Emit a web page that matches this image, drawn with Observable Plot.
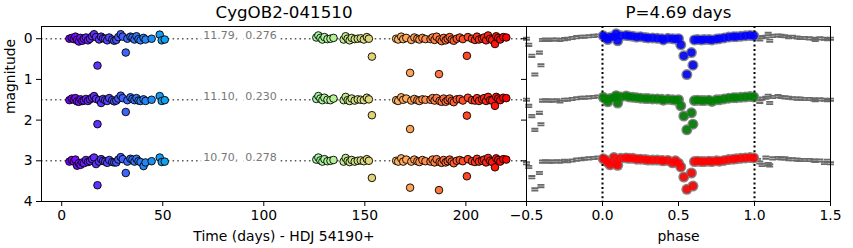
<!DOCTYPE html>
<html><head><meta charset="utf-8">
<script src="https://cdn.jsdelivr.net/npm/d3@7"></script>
<script src="https://cdn.jsdelivr.net/npm/@observablehq/plot@0.6"></script>
<style>
body{margin:0;background:#fff;}
#wrap{position:relative;width:853px;height:248px;font-family:"DejaVu Sans",sans-serif;}
#wrap svg{position:absolute;top:0;overflow:visible;}
</style></head><body><div id="wrap"></div>
<script>
// ---------- data ----------
const starName = "CygOB2-041510";
const periodDays = 4.69;
const bandOffsets = [0, 1.5, 3];
const bandMeans = [11.79, 11.10, 10.70];
const bandAmps = [0.276, 0.230, 0.278];
const bandColors = ["#0000ff", "#008000", "#ff0000"];
const annotX = 70;

// observation times (days, HDJ 54190+)
const times = [
  3.8, 5, 6, 6.8, 7.6, 8.5, 9.3, 10.2, 11, 12, 13, 14, 15, 16, 17, 17.7, 18.5, 19.5, 20.5, 21.5, 22.5, 23.5, 25, 26, 27, 28, 29.2, 30.2, 31.7, 32.5, 34, 35, 36, 37, 38, 39, 40.5, 41.5, 44.5, 48.5, 49.5, 51,
  126, 127, 128, 129, 130, 131.5, 133, 134.5,
  139.5, 140.5, 141.5, 142.5, 143.5, 145, 146.5, 148, 149.5, 151, 152, 153.5,
  165.5, 166.5, 168, 169, 170.5, 172.4, 173, 174.5, 176, 177, 178.5, 180,
  182.5, 183.5, 184.5, 185.5, 186.7, 187, 188, 189, 190, 191, 192, 193, 194, 195.5, 197, 198.5, 200.5, 201, 203, 204.5, 205.5, 206.5, 208, 209, 210, 211, 212, 213, 214.4, 215, 216, 217, 218.5, 220
];
// magnitude minus band mean
const magB = [
  0.0, -0.02, 0.01, -0.05, 0.03, 0.07, -0.02, 0.05, 0.0, -0.03, 0.04, 0.0, -0.06, -0.11, -0.04, 0.66, 0.02, -0.05, -0.01, 0.0, 0.04, -0.03, 0.02, 0.05, 0.03, -0.04, -0.11, -0.05, 0.34, 0.0, -0.05, -0.03, 0.02, -0.06, 0.01, 0.04, -0.02, 0.02, 0.0, -0.1, 0.04, 0.02,
  -0.03, -0.08, -0.02, 0.02, -0.04, 0.01, 0.0, -0.02,
  0.02, -0.06, 0.0, 0.04, -0.02, 0.01, 0.0, -0.01, 0.02, -0.04, 0.0, 0.44,
  0.0, 0.02, -0.05, 0.01, -0.02, 0.84, 0.03, -0.03, 0.0, 0.02, -0.02, 0.01,
  0.01, -0.03, 0.03, -0.05, 0.87, 0.02, 0.06, -0.02, 0.04, 0.0, -0.04, 0.02, 0.05, 0.0, -0.03, 0.01, 0.42, -0.04, 0.0, 0.03, -0.05, 0.02, 0.0, -0.03, 0.04, -0.08, 0.0, 0.03, 0.13, -0.06, -0.02, 0.02, -0.04, -0.03
];
const magG = [
  0.01, -0.03, 0.0, -0.04, 0.04, 0.05, -0.01, 0.03, 0.02, -0.02, 0.03, -0.01, -0.05, -0.09, -0.02, 0.60, 0.01, 0.08, -0.02, 0.01, 0.03, -0.04, 0.01, 0.04, 0.02, -0.03, -0.1, -0.04, 0.30, 0.01, -0.06, -0.02, 0.01, -0.04, 0.02, 0.03, -0.01, 0.03, 0.0, -0.09, 0.03, 0.01,
  -0.02, -0.09, -0.03, 0.01, -0.05, 0.0, 0.01, -0.03,
  0.01, -0.07, 0.01, 0.03, -0.03, 0.02, -0.01, 0.0, 0.01, -0.05, -0.01, 0.38,
  0.01, 0.03, -0.06, 0.0, -0.03, 0.72, 0.02, -0.02, 0.01, 0.03, -0.01, 0.0,
  0.0, -0.04, 0.02, -0.04, null, 0.03, 0.05, -0.03, 0.05, 0.01, -0.03, 0.03, 0.06, -0.01, -0.02, 0.02, 0.39, -0.05, 0.01, 0.02, -0.04, 0.03, -0.01, -0.04, 0.03, -0.07, 0.01, 0.02, 0.15, -0.07, -0.03, 0.01, -0.05, -0.04
];
const magR = [
  0.02, -0.02, 0.02, -0.03, 0.12, 0.06, 0.1, 0.04, 0.06, -0.02, 0.03, 0.01, -0.04, -0.08, 0.08, 0.60, 0.02, -0.04, 0.0, 0.02, 0.05, -0.02, 0.03, 0.04, 0.04, -0.03, -0.09, -0.04, 0.30, 0.02, -0.05, -0.03, 0.02, -0.05, 0.01, 0.03, 0.13, 0.04, 0.01, -0.08, 0.03, 0.02,
  -0.03, -0.08, -0.01, 0.02, -0.04, 0.01, 0.0, -0.02,
  0.02, -0.07, 0.0, 0.03, -0.02, 0.02, 0.0, -0.01, 0.01, -0.04, 0.0, 0.42,
  0.0, 0.02, -0.06, 0.02, -0.03, 0.66, 0.02, -0.03, 0.01, 0.03, -0.02, 0.01,
  0.02, -0.03, 0.04, -0.04, 0.72, 0.03, 0.05, -0.02, 0.04, 0.01, -0.03, 0.02, 0.06, 0.0, -0.02, 0.01, 0.38, -0.04, 0.01, 0.03, -0.05, 0.02, 0.0, -0.03, 0.04, -0.07, 0.0, 0.03, 0.16, -0.06, -0.02, 0.02, -0.04, -0.03
];

// folded light curve (phase, magnitude minus band mean)
const phases = [0.005, 0.02, 0.035, 0.05, 0.075, 0.09, 0.10, 0.12, 0.155, 0.175, 0.20, 0.225, 0.25, 0.28, 0.30, 0.33, 0.36, 0.39, 0.40, 0.43, 0.46, 0.48, 0.50, 0.515, 0.535, 0.555, 0.585, 0.595, 0.605, 0.625, 0.65, 0.67, 0.70, 0.72, 0.75, 0.77, 0.80, 0.83, 0.86, 0.88, 0.91, 0.94, 0.97, 0.995];
const foldB = [-0.07, -0.03, 0.02, -0.04, -0.05, -0.12, 0.05, -0.07, -0.08, -0.07, -0.06, -0.04, -0.05, -0.03, -0.02, -0.02, -0.01, 0.0, 0.03, -0.01, 0.0, 0.01, 0.0, 0.15, 0.42, 0.88, 0.34, 0.65, 0.03, 0.02, 0.03, 0.02, 0.02, 0.03, 0.01, 0.0, -0.02, -0.04, -0.05, -0.05, -0.06, -0.07, -0.08, -0.07];
const foldG = [-0.06, -0.02, 0.05, -0.03, -0.05, -0.10, 0.08, -0.07, -0.09, -0.07, -0.06, -0.05, -0.04, -0.03, -0.03, -0.02, -0.02, -0.01, 0.01, -0.01, 0.0, 0.01, 0.0, 0.15, 0.40, 0.74, 0.32, 0.60, 0.02, 0.01, 0.02, 0.02, 0.01, 0.04, 0.0, 0.0, -0.02, -0.04, -0.05, -0.05, -0.06, -0.07, -0.08, -0.07];
const foldR = [-0.05, -0.02, 0.04, 0.10, -0.08, 0.08, 0.11, -0.06, -0.07, -0.06, -0.06, -0.04, -0.04, -0.03, -0.02, -0.02, -0.02, -0.01, 0.0, -0.01, 0.05, 0.0, 0.06, 0.15, 0.40, 0.70, 0.30, 0.62, 0.02, 0.01, 0.02, 0.02, 0.01, 0.02, 0.0, 0.01, -0.01, -0.03, -0.04, -0.05, -0.06, -0.07, -0.08, -0.07];

const xTicksTime = [0, 50, 100, 150, 200];
const xTicksPhase = [-0.5, 0, 0.5, 1, 1.5];
const yTicks = [0, 1, 2, 3, 4];
const foldBounds = [0, 1];

// ---------- build tables ----------
const timeMags = [magB, magG, magR];
const foldMags = [foldB, foldG, foldR];
const leftData = [];
timeMags.forEach((arr, k) => times.forEach((t, i) => {
  if (arr[i] != null) leftData.push({t, y: bandOffsets[k] + arr[i]});
}));
const rightData = [], grayCopies = [];
foldMags.forEach((arr, k) => phases.forEach((p, i) => {
  const y = bandOffsets[k] + arr[i];
  rightData.push({p, y, band: k});
  if (p >= 0.5) grayCopies.push({p: p - 1, y});
  if (p <= 0.5) grayCopies.push({p: p + 1, y});
}));
const annots = bandOffsets.map((o, k) => ({y: o, label: `${bandMeans[k].toFixed(2)},  ${bandAmps[k].toFixed(3)}`}));

// matplotlib "rainbow" colormap
const clamp01 = v => Math.max(0, Math.min(1, v));
const rainbow = u => {
  const c = v => Math.round(255 * clamp01(v));
  return `rgb(${c(Math.abs(2 * u - 0.5))},${c(Math.sin(Math.PI * u))},${c(Math.cos(Math.PI * u / 2))})`;
};

const eqSymbol = {draw(ctx) { ctx.rect(-3.5, -2.0, 7, 1.8); ctx.rect(-3.5, 0.3, 7, 1.8); }};

const H = 248, MT = 26, MB = 47;
const baseStyle = {fontFamily: "DejaVu Sans", fontSize: "13.9px", background: "transparent", overflow: "visible", color: "black"};
const yScale = {domain: [-0.3, 4], reverse: true};

const left = Plot.plot({
  width: 527, height: H, marginLeft: 41, marginRight: 1, marginTop: MT, marginBottom: MB,
  style: baseStyle,
  x: {domain: [-10, 230], label: null},
  y: {...yScale, label: null},
  color: {type: "linear", domain: d3.extent(times), interpolate: rainbow},
  marks: [
    Plot.ruleY(bandOffsets, {stroke: "#555", strokeWidth: 1.5, strokeDasharray: "1.5,3.2"}),
    Plot.text(annots, {x: () => annotX, y: "y", text: "label", textAnchor: "start", dy: -3.5, fontSize: 11, fill: "#777", stroke: "white", strokeWidth: 7, paintOrder: "stroke"}),
    Plot.dot(leftData, {x: "t", y: "y", fill: "t", stroke: "black", strokeWidth: 0.9, r: 3.8}),
    Plot.frame({stroke: "black", strokeWidth: 1}),
    Plot.axisX(xTicksTime, {tickSize: 5, tickPadding: 4, fontSize: 13.9}),
    Plot.axisY(yTicks, {tickSize: 5, tickPadding: 4, fontSize: 13.9}),
    Plot.text([starName], {text: d => d, frameAnchor: "top", dy: -14, fontSize: 16.7, lineAnchor: "middle"}),
    Plot.text(["Time (days) - HDJ 54190+"], {text: d => d, frameAnchor: "bottom", dy: 35, fontSize: 13.9, lineAnchor: "middle"}),
    Plot.text(["magnitude"], {text: d => d, frameAnchor: "left", dx: -31, rotate: -90, fontSize: 13.9, lineAnchor: "middle"})
  ]
});

const right = Plot.plot({
  width: 347, height: H, marginLeft: 20, marginRight: 23, marginTop: MT, marginBottom: MB,
  style: baseStyle,
  x: {domain: [-0.5, 1.5], label: null},
  y: {...yScale, label: null},
  marks: [
    Plot.dot(grayCopies, {x: "p", y: "y", symbol: eqSymbol, fill: "#6a6a6a", r: 3}),
    Plot.dot(rightData, {x: "p", y: "y", fill: "#858585", r: 5.5}),
    Plot.ruleX(foldBounds, {stroke: "black", strokeWidth: 2, strokeDasharray: "2,2.6"}),
    Plot.dot(rightData, {x: "p", y: "y", fill: d => bandColors[d.band], fillOpacity: 0.85, r: 4.1}),
    Plot.frame({stroke: "black", strokeWidth: 1}),
    Plot.axisX(xTicksPhase, {tickSize: 5, tickPadding: 4, fontSize: 13.9, tickFormat: d3.format(".1f")}),
    Plot.axisY(yTicks, {tickSize: 5, tickFormat: () => ""}),
    Plot.text([`P=${periodDays.toFixed(2)} days`], {text: d => d, frameAnchor: "top", dy: -14, fontSize: 16.7, lineAnchor: "middle"}),
    Plot.text(["phase"], {text: d => d, frameAnchor: "bottom", dy: 35, fontSize: 13.9, lineAnchor: "middle"})
  ]
});

const wrap = document.getElementById("wrap");
left.style.left = "0px";
right.style.left = "506px";
wrap.appendChild(left);
wrap.appendChild(right);
</script></body></html>
